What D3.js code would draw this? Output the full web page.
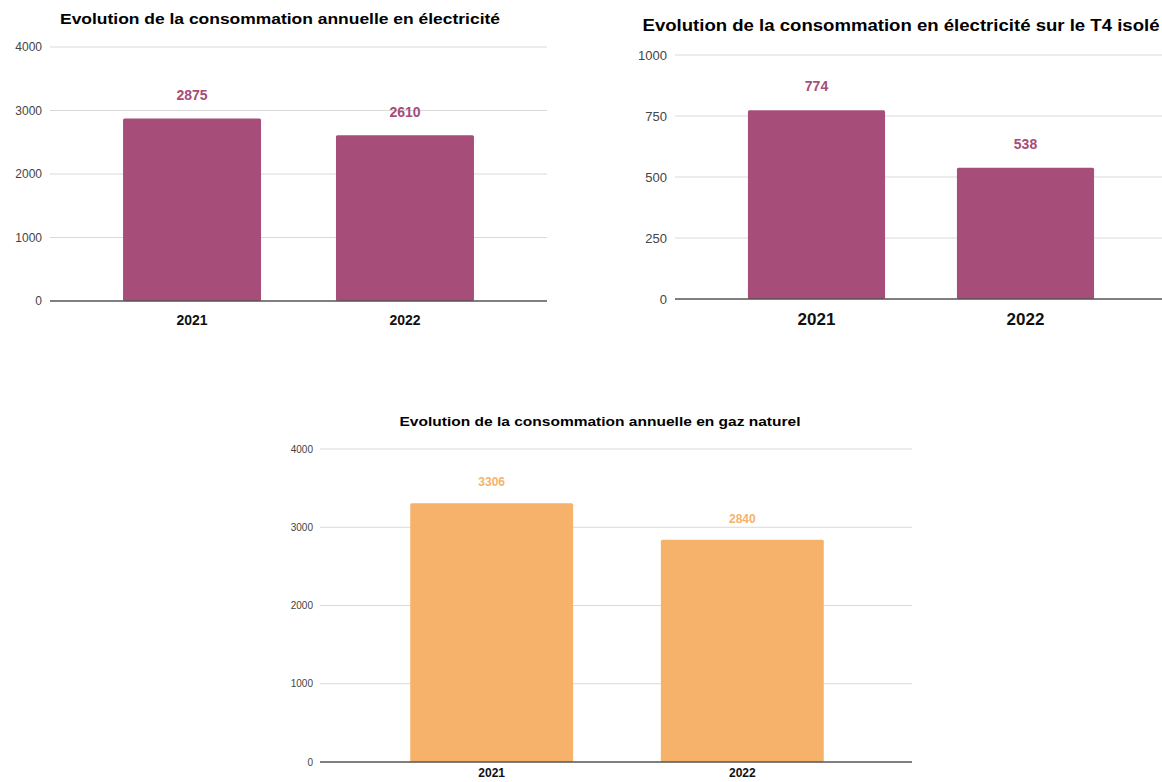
<!DOCTYPE html>
<html><head><meta charset="utf-8">
<script src="https://cdn.jsdelivr.net/npm/d3@7"></script>
<style>body{margin:0;background:#fff}svg{display:block}text{font-family:"Liberation Sans",Arial,sans-serif}</style>
</head><body>
<svg id="c" width="1162" height="782"></svg>
<script>
const years = ["2021", "2022"];
const elecAnnual = [2875, 2610];
const elecT4 = [774, 538];
const gasAnnual = [3306, 2840];
const ticksElec = [0, 1000, 2000, 3000, 4000];
const ticksT4 = [0, 250, 500, 750, 1000];
const ticksGas = [0, 1000, 2000, 3000, 4000];
const titles = [
  "Evolution de la consommation annuelle en électricité",
  "Evolution de la consommation en électricité sur le T4 isolé",
  "Evolution de la consommation annuelle en gaz naturel"
];

const svg = d3.select("#c");

function chart(o) {
  const g = svg.append("g");
  const y = d3.scaleLinear().domain([0, d3.max(o.ticks)]).range([o.y0, o.y1]);
  const x = d3.scaleBand().domain(years).range([o.x0, o.x1]).paddingInner(o.pi).paddingOuter(o.po);
  g.selectAll("line.grid").data(o.ticks.filter(t => t > 0)).join("line")
    .attr("x1", o.x0).attr("x2", o.gx1).attr("y1", d => y(d)).attr("y2", d => y(d))
    .attr("stroke", "#d9d9d9").attr("stroke-width", 1.2);
  const ax = d3.axisLeft(y).tickValues(o.ticks).tickFormat(d3.format("d")).tickSize(0).tickPadding(o.tp);
  const ag = g.append("g").attr("transform", `translate(${o.x0},0)`).call(ax);
  ag.select(".domain").remove();
  ag.selectAll("text").attr("font-size", o.tickFs).attr("fill", "#444")
    .attr("font-family", "'Liberation Sans',Arial,sans-serif");
  g.selectAll("rect").data(o.values).join("rect")
    .attr("x", (d, i) => x(years[i])).attr("width", x.bandwidth())
    .attr("y", d => y(d)).attr("height", d => y(0) - y(d))
    .attr("fill", o.color).attr("rx", 1.5);
  g.append("line").attr("x1", o.x0).attr("x2", o.gx1).attr("y1", y(0)).attr("y2", y(0))
    .attr("stroke", "#555").attr("stroke-width", 1.5);
  g.selectAll("text.val").data(o.values).join("text").attr("class", "val")
    .attr("x", (d, i) => x(years[i]) + x.bandwidth() / 2).attr("y", d => y(d) - o.vOff)
    .attr("text-anchor", "middle").attr("font-size", o.valFs).attr("font-weight", "bold")
    .attr("fill", o.labelColor).text(d => d);
  const xa = d3.axisBottom(x).tickSize(0).tickPadding(o.xtp);
  const xg = g.append("g").attr("transform", `translate(0,${o.y0})`).call(xa);
  xg.select(".domain").remove();
  xg.selectAll("text").attr("font-size", o.xFs).attr("font-weight", "bold").attr("fill", "#111")
    .attr("font-family", "'Liberation Sans',Arial,sans-serif");
  g.append("text").attr("x", o.tx).attr("y", o.ty).attr("text-anchor", "middle")
    .attr("font-size", o.titleFs).attr("font-weight", "bold").attr("fill", "#000")
    .attr("textLength", o.tw).attr("lengthAdjust", "spacingAndGlyphs").text(o.title);
}

chart({title: titles[0], values: elecAnnual, ticks: ticksElec, color: "#a64d79", labelColor: "#a64d79",
  x0: 50, x1: 547, gx1: 547, y0: 301, y1: 47, pi: 0.352, po: 0.343, tp: 8, tickFs: 12,
  valFs: 14, vOff: 18, xFs: 14, xtp: 14, tx: 280, ty: 24, titleFs: 15, tw: 440});
chart({title: titles[1], values: elecT4, ticks: ticksT4, color: "#a64d79", labelColor: "#a64d79",
  x0: 675, x1: 1167, gx1: 1162, y0: 299, y1: 55, pi: 0.344, po: 0.349, tp: 8, tickFs: 13,
  valFs: 14, vOff: 19, xFs: 17, xtp: 14, tx: 901, ty: 31, titleFs: 16, tw: 517});
chart({title: titles[2], values: gasAnnual, ticks: ticksGas, color: "#f6b26b", labelColor: "#f6b26b",
  x0: 320, x1: 914, gx1: 912, y0: 762, y1: 449, pi: 0.35, po: 0.36, tp: 7, tickFs: 10,
  valFs: 12, vOff: 17, xFs: 12, xtp: 6, tx: 600, ty: 426, titleFs: 13, tw: 401});
</script>
</body></html>
